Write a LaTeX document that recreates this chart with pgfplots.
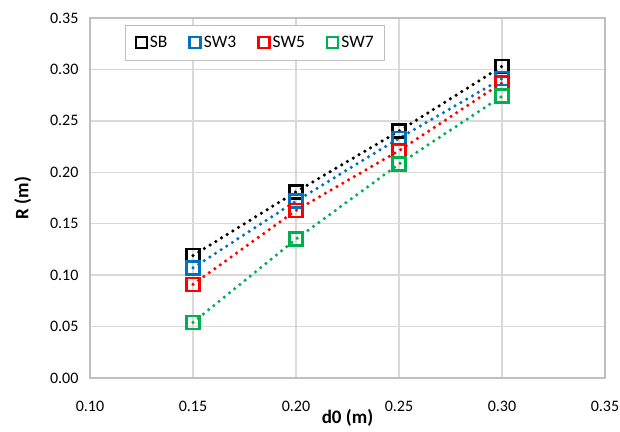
\documentclass[border=0pt]{standalone}
\usepackage{fontspec}
\setmainfont{Carlito}
\usepackage{pgfplots}
\pgfplotsset{compat=1.18}
\definecolor{cBlue}{RGB}{0,112,192}
\definecolor{cRed}{RGB}{255,0,0}
\definecolor{cGreen}{RGB}{0,176,80}
\definecolor{gridgray}{RGB}{217,217,217}
\definecolor{axgray}{RGB}{191,191,191}
\begin{document}
\begin{tikzpicture}
\path[use as bounding box] (-90pt,-53pt) rectangle (530pt,378pt);
\begin{axis}[
  at={(0pt,0pt)}, anchor=south west,
  scale only axis, width=515pt, height=360pt,
  xmin=0.10, xmax=0.35, ymin=0, ymax=0.35,
  xtick={0.10,0.15,...,0.351}, ytick={0,0.05,...,0.351},
  /pgf/number format/.cd, fixed, fixed zerofill, precision=2, assume math mode=true,
  /pgfplots/.cd,
  major tick length=0pt,
  grid=major,
  grid style={gridgray, line width=1.3pt},
  axis line style={axgray, line width=1.3pt},
  tick label style={font=\fontsize{16}{18}\selectfont},
  xticklabel style={yshift=-20pt},
  yticklabel style={xshift=-8pt},
  xlabel={\textbf{d0 (m)}}, ylabel={\textbf{R (m)}},
  label style={font=\fontsize{19}{21}\selectfont},
  xlabel style={yshift=10pt},
  ylabel style={yshift=12pt},
  legend columns=4,
  legend style={at={(35pt,353pt)}, anchor=north west, draw=axgray, line width=1pt, fill=white,
    font=\fontsize{17.5}{19}\selectfont, inner xsep=9pt, inner ysep=9pt,
    /tikz/every even column/.append style={column sep=19pt}},
  legend image code/.code={\draw[#1, solid, line width=2.4pt] (2pt,-5pt) rectangle (13pt,6pt);},
]
\pgfplotsset{every axis plot/.append style={line width=3.5pt, dash pattern=on 0pt off 6.7pt, line cap=round}}
\addplot[black, mark=square, mark size=6.5pt, mark options={solid, draw=black, line width=2.5pt}] coordinates {(0.15,0.119) (0.20,0.181) (0.25,0.240) (0.30,0.303)};
\addlegendentry{SB}
\addplot[cBlue, mark=square, mark size=6.5pt, mark options={solid, draw=cBlue, line width=2.5pt}] coordinates {(0.15,0.107) (0.20,0.172) (0.25,0.233) (0.30,0.291)};
\addlegendentry{SW3}
\addplot[cRed, mark=square, mark size=6.5pt, mark options={solid, draw=cRed, line width=2.5pt}] coordinates {(0.15,0.091) (0.20,0.163) (0.25,0.221) (0.30,0.287)};
\addlegendentry{SW5}
\addplot[cGreen, mark=square, mark size=6.5pt, mark options={solid, draw=cGreen, line width=2.5pt}] coordinates {(0.15,0.054) (0.20,0.135) (0.25,0.208) (0.30,0.274)};
\addlegendentry{SW7}
\end{axis}
\end{tikzpicture}
\end{document}
